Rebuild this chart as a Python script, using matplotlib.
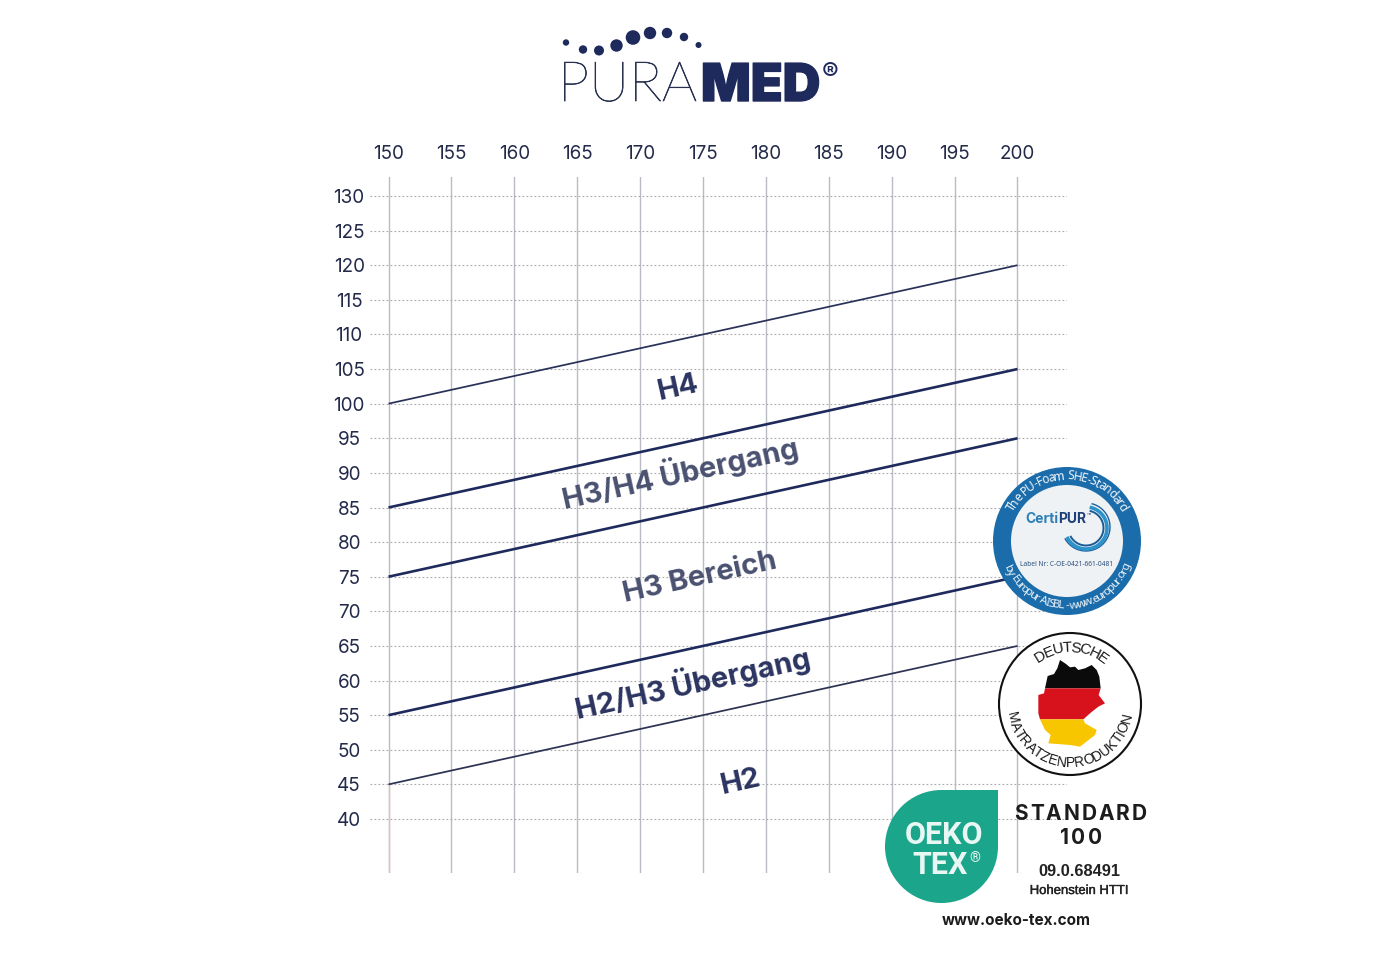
import numpy as np
import matplotlib
matplotlib.use("Agg")
import matplotlib.pyplot as plt
import matplotlib.patheffects as pe
from matplotlib.patches import Circle, Polygon, Rectangle
from matplotlib.font_manager import FontProperties, findfont, get_font
from matplotlib.ft2font import LoadFlags

# ---------- data ----------
heights = list(range(150, 201, 5))
weights = list(range(40, 131, 5))
line_start = [100, 85, 75, 55, 45]
line_end = [120, 105, 95, 75, 65]
line_widths = [1.25, 1.9, 1.9, 1.9, 1.25]
line_colors = ["#2a3158", "#1f2a5c", "#1f2a5c", "#1f2a5c", "#2c3252"]
zone_labels = ["H4", "H3/H4 Übergang", "H3 Bereich", "H2/H3 Übergang", "H2"]
zone_x = [173.0, 173.2, 174.75, 174.15, 177.95]
zone_y = [102.2, 90.05, 74.9, 59.7, 45.3]
zone_colors = ["#2b3460", "#4a5170", "#4a5170", "#2b3460", "#2b3460"]

NAVY = "#1f2a5c"
UI = "Inter"

fig = plt.figure(figsize=(14, 9.6), dpi=100, facecolor="white")
W, H = 1400, 960

# axes box in pixels: left 370, right 1067, top 177, bottom 873
ax = fig.add_axes([370 / W, 1 - 873 / H, 697 / W, 696 / H])
px_x = 629 / 50
px_y = 623 / 90
ax.set_xlim(150 - 18.5 / px_x, 200 + 49.5 / px_x)
ax.set_ylim(40 - 54 / px_y, 130 + 19 / px_y)
for s in ax.spines.values():
    s.set_visible(False)
ax.set_xticks(heights, [str(v) for v in heights], fontfamily=UI, fontsize=13.6, color="#232a4a")
ax.set_yticks(weights, [str(v) for v in weights], fontfamily=UI, fontsize=13.6, color="#232a4a", ha="center")
ax.xaxis.tick_top()
ax.tick_params(axis="x", length=0, pad=10)
ax.tick_params(axis="y", length=0, pad=15)
ax.grid(axis="x", color="#b9bcc2", lw=1.0)
ax.grid(axis="y", color="#a9a9a9", lw=0.8, linestyle=(0, (1.6, 2.0)))
ax.set_axisbelow(True)
ax.plot([heights[0], heights[0]], [ax.get_ylim()[0], line_start[-1]], color="#e3c0be", lw=1.0, zorder=1.5)

for a, b, lw, c in zip(line_start, line_end, line_widths, line_colors):
    ax.plot([heights[0], heights[-1]], [a, b], color=c, lw=lw, solid_capstyle="butt", zorder=3)
for t, x, y, c in zip(zone_labels, zone_x, zone_y, zone_colors):
    ax.text(x, y, t, rotation=12.5, rotation_mode="anchor", ha="center", va="center",
            fontfamily=UI, fontweight="bold", fontsize=21, color=c, zorder=4)

# ---------- overlay in image pixels for the logos ----------
ov = fig.add_axes([0, 0, 1, 1], facecolor="none")
ov.set_xlim(0, W)
ov.set_ylim(H, 0)
ov.axis("off")


def widths(s, size, family, weight):
    fp = FontProperties(family=family, size=size, weight=weight)
    font = get_font(findfont(fp))
    font.set_size(size, 100)
    out = []
    for ch in s:
        g = font.load_char(ord(ch), flags=LoadFlags.NO_HINTING)
        out.append(g.linearHoriAdvance / 65536)
    return np.array(out, dtype=float)


def arc_text(s, cx, cy, r, a0, a1, size, color, family="Liberation Sans", weight="normal", z=10):
    w = widths(s, size, family, weight)
    mids = (np.cumsum(w) - w / 2) / w.sum()
    for ch, m in zip(s, mids):
        ang = a0 + (a1 - a0) * m
        rad = np.radians(ang)
        rot = ang - 90 if a1 < a0 else ang + 90
        ov.text(cx + r * np.cos(rad), cy - r * np.sin(rad), ch, rotation=rot, rotation_mode="anchor",
                ha="center", va="center", fontsize=size, color=color, fontfamily=family,
                fontweight=weight, zorder=z)


def spaced_text(s, cx, cy, size, gap, color, family="Inter", weight="bold"):
    w = widths(s, size, family, weight) + gap
    x = cx - w.sum() / 2
    for ch, wi in zip(s, w):
        ov.text(x + wi / 2, cy, ch, ha="center", va="center", fontsize=size, color=color,
                fontfamily=family, fontweight=weight, zorder=10)
        x += wi


# PURAMED logo
logo_dots_x = [566, 583, 599, 616.5, 633, 650, 667, 684, 698.5]
logo_dots_y = [42.5, 49.5, 50.5, 45.5, 37.5, 33, 33, 37, 45]
logo_dots_r = [3.2, 4.2, 5.0, 6.2, 7.3, 6.2, 5.2, 4.2, 3.0]
for x, y, r in zip(logo_dots_x, logo_dots_y, logo_dots_r):
    ov.add_patch(Circle((x, y), r, color=NAVY, lw=0))
pura = ov.text(558, 101, "PURA", ha="left", va="baseline", fontsize=40, color="#28304f",
               fontfamily="Lato", fontweight="light")
pura.set_path_effects([pe.withStroke(linewidth=0.5, foreground="#28304f")])
med = ov.text(701, 101, "MED", ha="left", va="baseline", fontsize=37.5, color=NAVY,
              fontfamily=UI, fontweight="black")
med.set_path_effects([pe.withStroke(linewidth=1.0, foreground=NAVY)])
ov.text(830.5, 74, "®", ha="center", va="center", fontsize=18, color=NAVY, fontfamily=UI, fontweight="bold")

# CertiPUR seal
cx, cy = 1067, 541
ov.add_patch(Circle((cx, cy), 74, color="#1b6cab", lw=0, zorder=5))
ov.add_patch(Circle((cx, cy), 56, color="#eef2f4", lw=0, zorder=6))
arc_text("The PU-Foam SHE-Standard", cx, cy, 65, 152, 28, 8.6, "#f2f6fa", "Noto Sans")
arc_text("by Europur AISBL - www.europur.org", cx, cy, 65, 203, 339, 8.4, "#e8f0f6", "Noto Sans")
ov.text(1058, 519, "Certi", ha="right", va="center", fontsize=10, fontweight="bold",
        color="#2d7fb6", fontfamily=UI, zorder=8)
ov.text(1058, 519, "PUR", ha="left", va="center", fontsize=10, fontweight="bold",
        color="#1f3f7a", fontfamily=UI, zorder=8)
ov.text(1089, 515, "™", ha="center", va="center", fontsize=5, color="#1f3f7a", fontfamily=UI, zorder=8)
swirl_r = [24, 21, 17.5]
swirl_cy = [527, 528, 528]
swirl_c = ["#1f5f9e", "#2b93c9", "#1b5a95"]
swirl_w = [1.0, 2.6, 1.4]
for r, yy, c, lw in zip(swirl_r, swirl_cy, swirl_c, swirl_w):
    th = np.radians(np.linspace(75, -150, 60))
    ov.plot(1086 + r * np.cos(th), yy - r * np.sin(th), color=c, lw=lw, zorder=8)
ov.text(1067, 564, "Label Nr: C-OE-0421-661-0481", ha="center", va="center", fontsize=4.8,
        color="#2e4f7c", fontfamily="Noto Sans", zorder=8)

# Deutsche Matratzenproduktion seal
cx2, cy2 = 1070, 704
ov.add_patch(Circle((cx2, cy2), 71, fc="white", ec="#111111", lw=1.5, zorder=5))
arc_text("DEUTSCHE", cx2, cy2, 56, 127, 50, 11, "#1a1a1a")
arc_text("MATRATZENPRODUKTION", cx2, cy2, 59, 188, 351, 10, "#1a1a1a")


def zoomed(points):
    return [(980 + a / 3, 450 + b / 3) for a, b in points]


black_part = [(195, 715), (203, 678), (222, 672), (232, 655), (240, 630), (258, 642), (270, 652),
              (285, 650), (295, 660), (315, 655), (335, 645), (350, 660), (358, 680), (362, 715)]
red_part = [(195, 715), (362, 715), (356, 735), (375, 760), (355, 770), (330, 790), (310, 808),
            (180, 808), (175, 790), (175, 735), (192, 730)]
gold_part = [(180, 808), (310, 808), (315, 820), (350, 840), (345, 855), (300, 890), (270, 885),
             (205, 880), (212, 855), (195, 840)]
for part, col in zip([black_part, red_part, gold_part], ["#0b0b0b", "#d8121d", "#f7c600"]):
    ov.add_patch(Polygon(zoomed(part), closed=True, fc=col, ec="none", zorder=7))

# OEKO-TEX label
GREEN = "#1ba58b"
ov.add_patch(Circle((941.5, 846.5), 56.5, color=GREEN, lw=0, zorder=5))
ov.add_patch(Rectangle((941.5, 790), 56.5, 56.5, color=GREEN, lw=0, zorder=5))
ov.text(943.5, 835, "OEKO", ha="center", va="center", fontsize=22, color="#e8f7f3",
        fontfamily="Roboto", fontweight="bold", zorder=8)
ov.text(940, 864.5, "TEX", ha="center", va="center", fontsize=22, color="#e8f7f3",
        fontfamily="Roboto", fontweight="bold", zorder=8)
ov.text(974.5, 858, "®", ha="center", va="center", fontsize=10, color="#e8f7f3",
        fontfamily="Roboto", fontweight="bold", zorder=8)

spaced_text("STANDARD", 1080.5, 813.5, 15, 2.0, "#1c1c1c")
spaced_text("100", 1081, 838, 15, 2.0, "#1c1c1c")
ov.text(1079, 872, "09.0.68491", ha="center", va="center", fontsize=11.8, fontweight="bold",
        color="#222222", fontfamily="Liberation Sans")
h = ov.text(1079, 891, "Hohenstein HTTI", ha="center", va="center", fontsize=9.4, color="#222222",
            fontfamily="Liberation Sans")
h.set_path_effects([pe.withStroke(linewidth=0.3, foreground="#222222")])
ov.text(1016.5, 920.5, "www.oeko-tex.com", ha="center", va="center", fontsize=11, fontweight="bold",
        color="#1c1c1c", fontfamily=UI)

fig.savefig("out.png", dpi=100, facecolor="white")
